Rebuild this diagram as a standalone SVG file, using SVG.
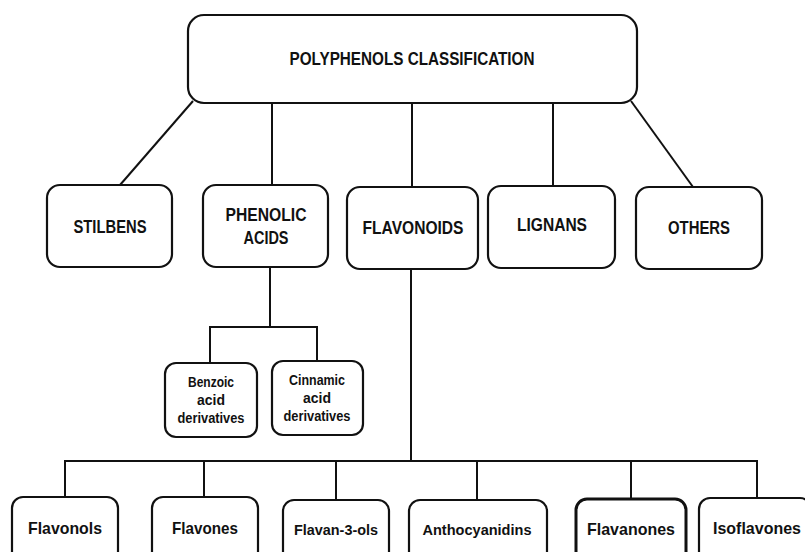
<svg xmlns="http://www.w3.org/2000/svg" width="805" height="552" viewBox="0 0 805 552">
<style>
.box{fill:#fff;stroke:#111;stroke-width:2.2}
.thick{stroke-width:3}
.ln{fill:none;stroke:#111;stroke-width:2}
text{font-family:"Liberation Sans",Arial,sans-serif;font-weight:bold;fill:#111;text-anchor:middle;dominant-baseline:central}
.t18{font-size:18px}
.t17{font-size:17px}
.t15{font-size:15px}
.t14{font-size:14px}
</style>
<rect width="805" height="552" fill="#fff"/>
<g id="connectors">
<line class="ln" x1="193" y1="101" x2="120" y2="185"/>
<line class="ln" x1="272" y1="103" x2="272" y2="185"/>
<line class="ln" x1="412" y1="103" x2="412" y2="187"/>
<line class="ln" x1="553" y1="103" x2="553" y2="186"/>
<line class="ln" x1="631" y1="101" x2="693" y2="187"/>
<polyline class="ln" points="270,267 270,327"/>
<polyline class="ln" points="210,362 210,327 317,327 317,361"/>
<line class="ln" x1="411" y1="269" x2="411" y2="461"/>
<polyline class="ln" points="65,497 65,461 757,461 757,498"/>
<line class="ln" x1="204" y1="461" x2="204" y2="497"/>
<line class="ln" x1="336" y1="461" x2="336" y2="500"/>
<line class="ln" x1="477" y1="461" x2="477" y2="500"/>
<line class="ln" x1="631" y1="461" x2="631" y2="499"/>
</g>
<g id="root">
<rect class="box" x="188" y="15" width="449" height="88" rx="16"/>
<text class="t18" x="412" y="59" textLength="245" lengthAdjust="spacingAndGlyphs">POLYPHENOLS CLASSIFICATION</text>
</g>
<g id="stilbens">
<rect class="box" x="47" y="185" width="125" height="82" rx="13"/>
<text class="t18" x="110" y="227" textLength="73" lengthAdjust="spacingAndGlyphs">STILBENS</text>
</g>
<g id="phenolic">
<rect class="box" x="203" y="185" width="125" height="82" rx="13"/>
<text class="t18" x="266" y="215" textLength="81" lengthAdjust="spacingAndGlyphs">PHENOLIC</text>
<text class="t18" x="266" y="238" textLength="45" lengthAdjust="spacingAndGlyphs">ACIDS</text>
</g>
<g id="flavonoids">
<rect class="box" x="347" y="187" width="131" height="82" rx="13"/>
<text class="t18" x="413" y="228" textLength="101" lengthAdjust="spacingAndGlyphs">FLAVONOIDS</text>
</g>
<g id="lignans">
<rect class="box" x="488" y="186" width="127" height="82" rx="13"/>
<text class="t18" x="552" y="225" textLength="70" lengthAdjust="spacingAndGlyphs">LIGNANS</text>
</g>
<g id="others">
<rect class="box" x="636" y="187" width="126" height="82" rx="13"/>
<text class="t18" x="699" y="228" textLength="62" lengthAdjust="spacingAndGlyphs">OTHERS</text>
</g>
<g id="benzoic">
<rect class="box" x="165" y="363" width="92" height="74" rx="11"/>
<text class="t14" x="211" y="382" textLength="46" lengthAdjust="spacingAndGlyphs">Benzoic</text>
<text class="t14" x="211" y="400" textLength="28" lengthAdjust="spacingAndGlyphs">acid</text>
<text class="t14" x="211" y="418" textLength="67" lengthAdjust="spacingAndGlyphs">derivatives</text>
</g>
<g id="cinnamic">
<rect class="box" x="272" y="361" width="91" height="74" rx="11"/>
<text class="t14" x="317" y="380" textLength="56" lengthAdjust="spacingAndGlyphs">Cinnamic</text>
<text class="t14" x="317" y="398" textLength="28" lengthAdjust="spacingAndGlyphs">acid</text>
<text class="t14" x="317" y="416" textLength="67" lengthAdjust="spacingAndGlyphs">derivatives</text>
</g>
<g id="flavonols">
<rect class="box" x="12" y="497" width="106" height="70" rx="11"/>
<text class="t17" x="65" y="528" textLength="74" lengthAdjust="spacingAndGlyphs">Flavonols</text>
</g>
<g id="flavones">
<rect class="box" x="152" y="497" width="106" height="70" rx="11"/>
<text class="t17" x="205" y="528" textLength="66" lengthAdjust="spacingAndGlyphs">Flavones</text>
</g>
<g id="flavan3ols">
<rect class="box" x="283" y="500" width="106" height="70" rx="11"/>
<text class="t15" x="336" y="529" textLength="84" lengthAdjust="spacingAndGlyphs">Flavan-3-ols</text>
</g>
<g id="anthocyanidins">
<rect class="box" x="409" y="500" width="138" height="70" rx="11"/>
<text class="t15" x="477" y="529" textLength="109" lengthAdjust="spacingAndGlyphs">Anthocyanidins</text>
</g>
<g id="flavanones">
<rect class="box thick" x="576" y="499" width="110" height="70" rx="11"/>
<text class="t17" x="631" y="529" textLength="88" lengthAdjust="spacingAndGlyphs">Flavanones</text>
</g>
<g id="isoflavones">
<rect class="box" x="699" y="498" width="112" height="70" rx="11"/>
<text class="t17" x="757" y="528" textLength="88" lengthAdjust="spacingAndGlyphs">Isoflavones</text>
</g>
</svg>
